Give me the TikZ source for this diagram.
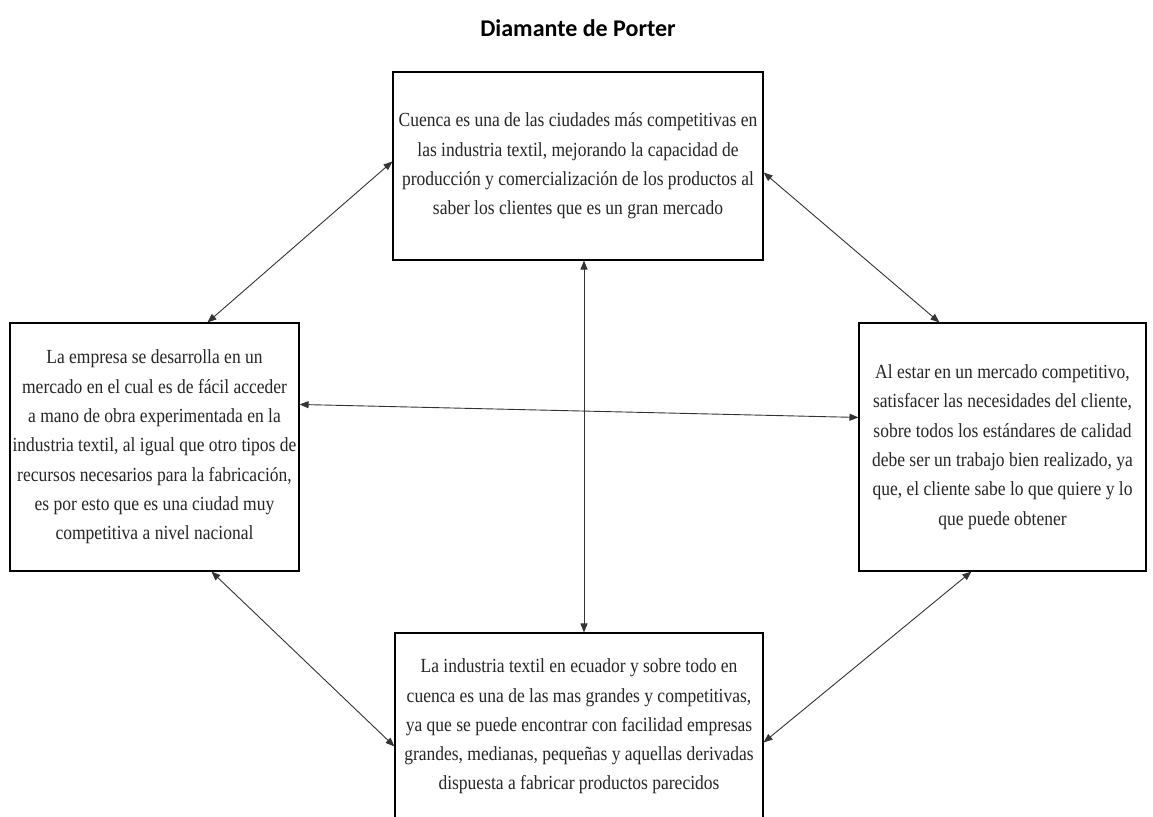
\documentclass[tikz,border=0pt]{standalone}
\usepackage{fontspec}
\setmainfont{Liberation Serif}
\newfontfamily\bodyfont[FakeStretch=0.875]{Liberation Serif}
\newfontfamily\titlefont{Carlito}
\usetikzlibrary{arrows.meta, positioning}
\tikzstyle{factor} = [rectangle, draw=black, line width=1.1pt, align=center,
    inner sep=0pt, font=\bodyfont\fontsize{20}{29.3}\selectfont, text=black!85]
\tikzstyle{arrow} = [line width=0.9pt, draw=black!80,
    {Triangle[length=9pt,width=7pt]}-{Triangle[length=9pt,width=7pt]}]

\begin{document}
\begin{tikzpicture}[x=1pt, y=-1pt]
\useasboundingbox[fill=white] (0,0) rectangle (1153,816);
% --- titulo ---
\node (titulo) at (578,28) {\titlefont\bfseries\fontsize{24}{28}\selectfont Diamante de Porter};

% --- cuatro cajas del diamante ---
\node (demanda) [factor, minimum width=370pt, minimum height=188pt] at (578,166)
    {Cuenca es una de las ciudades más competitivas en\\
     las industria textil, mejorando la capacidad de\\
     producción y comercialización de los productos al\\
     saber los clientes que es un gran mercado};
\node (factores) [factor, minimum width=289pt, minimum height=248pt] at (154.5,447)
    {La empresa se desarrolla en un\\
     mercado en el cual es de fácil acceder\\
     a mano de obra experimentada en la\\
     industria textil, al igual que otro tipos de\\
     recursos necesarios para la fabricación,\\
     es por esto que es una ciudad muy\\
     competitiva a nivel nacional};
\node (estrategia) [factor, minimum width=287pt, minimum height=248pt] at (1002.5,447)
    {Al estar en un mercado competitivo,\\
     satisfacer las necesidades del cliente,\\
     sobre todos los estándares de calidad\\
     debe ser un trabajo bien realizado, ya\\
     que, el cliente sabe lo que quiere y lo\\
     que puede obtener};
\node (relacionadas) [factor, minimum width=368pt, minimum height=187pt] at (579,726.5)
    {La industria textil en ecuador y sobre todo en\\
     cuenca es una de las mas grandes y competitivas,\\
     ya que se puede encontrar con facilidad empresas\\
     grandes, medianas, pequeñas y aquellas derivadas\\
     dispuesta a fabricar productos parecidos};

% --- flechas ---
\draw[arrow] ([shift={(198,0)}]factores.north west) -- ([shift={(0,90)}]demanda.north west);
\draw[arrow] ([shift={(0,101)}]demanda.north east) -- ([shift={(81,0)}]estrategia.north west);
\draw[arrow] ([shift={(0,82)}]factores.north east) -- ([shift={(0,95)}]estrategia.north west);
\draw[arrow] ([shift={(6,0)}]demanda.south) -- ([shift={(5,0)}]relacionadas.north);
\draw[arrow] ([shift={(202,0)}]factores.south west) -- ([shift={(0,114)}]relacionadas.north west);
\draw[arrow] ([shift={(0,110)}]relacionadas.north east) -- ([shift={(113,0)}]estrategia.south west);
\end{tikzpicture}
\end{document}
